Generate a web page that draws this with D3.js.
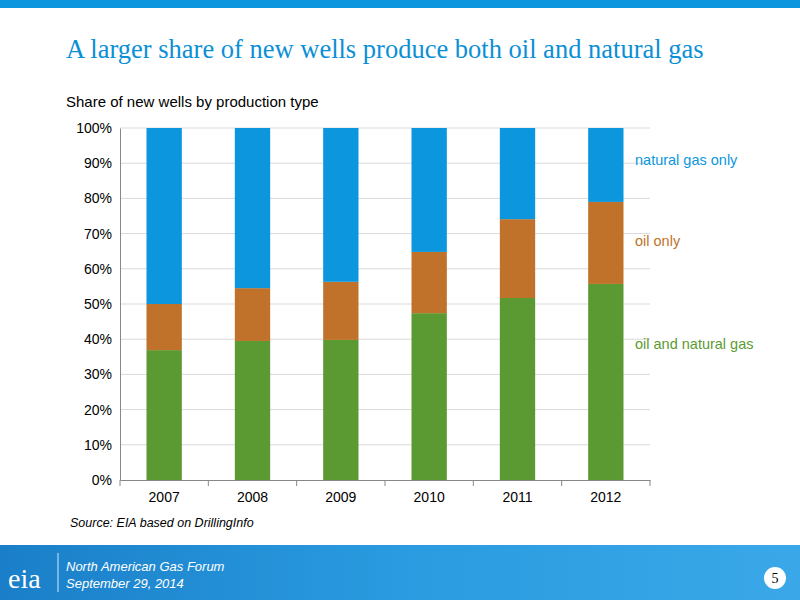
<!DOCTYPE html><html><head><meta charset="utf-8">
<script src="https://cdn.jsdelivr.net/npm/d3@7"></script>
<style>body{margin:0;background:#fff}svg{display:block}</style></head><body>
<svg id="c" width="800" height="600"></svg>
<script>
const years=["2007","2008","2009","2010","2011","2012"];
const oilAndGas=[36.9,39.5,39.8,47.4,51.7,55.7];
const oilOnly=[13.1,15.0,16.5,17.4,22.4,23.3];
const gasOnly=[50.0,45.5,43.7,35.2,25.9,21.0];
const yTicks=[0,10,20,30,40,50,60,70,80,90,100];
const seriesNames=["oil and natural gas","oil only","natural gas only"];
const colors=["#5b9a32","#c0722a","#0b96dd"];

const svg=d3.select("#c");
svg.append("rect").attr("x",0).attr("y",0).attr("width",800).attr("height",8).attr("fill","#0b96dd");
const g0=svg.append("defs").append("linearGradient").attr("id","fg").attr("x1",0).attr("x2",1);
g0.append("stop").attr("offset",0).attr("stop-color","#1a7fc8");
g0.append("stop").attr("offset",0.5).attr("stop-color","#2a9be0");
g0.append("stop").attr("offset",1).attr("stop-color","#3aa8e8");
svg.append("rect").attr("x",0).attr("y",545).attr("width",800).attr("height",55).attr("fill","url(#fg)");
svg.append("text").attr("x",8).attr("y",588).attr("fill","#fff").attr("font-family","Liberation Serif").attr("font-size",28).text("eia");
svg.append("line").attr("x1",58).attr("x2",58).attr("y1",553).attr("y2",592).attr("stroke","#cfe9f8");
svg.append("text").attr("x",66).attr("y",571).attr("fill","#fff").attr("font-family","Liberation Sans").attr("font-style","italic").attr("font-size",13).text("North American Gas Forum");
svg.append("text").attr("x",66).attr("y",588).attr("fill","#fff").attr("font-family","Liberation Sans").attr("font-style","italic").attr("font-size",13).text("September 29, 2014");
svg.append("circle").attr("cx",775).attr("cy",578).attr("r",11).attr("fill","#fff");
svg.append("text").attr("x",775).attr("y",583).attr("text-anchor","middle").attr("font-family","Liberation Serif").attr("font-size",14).text("5");

svg.append("text").attr("x",66).attr("y",58).attr("fill","#0b8fd6").attr("font-family","Liberation Serif").attr("font-size",26.5).text("A larger share of new wells produce both oil and natural gas");
svg.append("text").attr("x",66).attr("y",107).attr("fill","#000").attr("font-family","Liberation Sans").attr("font-size",15).text("Share of new wells by production type");
svg.append("text").attr("x",70).attr("y",527).attr("fill","#000").attr("font-family","Liberation Sans").attr("font-style","italic").attr("font-size",12.5).text("Source: EIA based on DrillingInfo");

const x=d3.scaleBand().domain(years).range([120,650]).paddingInner(0.6).paddingOuter(0.3);
const y=d3.scaleLinear().domain([0,100]).range([480,128]);

const grid=svg.append("g");
grid.selectAll("line").data(yTicks.slice(1)).join("line")
 .attr("x1",120).attr("x2",650).attr("y1",d=>y(d)).attr("y2",d=>y(d)).attr("stroke","#d9d9d9");

const rows=years.map((yr,i)=>({year:yr,a:oilAndGas[i],b:oilOnly[i],c:gasOnly[i]}));
const stack=d3.stack().keys(["a","b","c"])(rows);
stack.forEach((s,k)=>{
 svg.append("g").selectAll("rect").data(s).join("rect")
  .attr("x",d=>x(d.data.year)).attr("width",x.bandwidth())
  .attr("y",d=>y(Math.min(100,d[1]))).attr("height",d=>y(d[0])-y(Math.min(100,d[1])))
  .attr("fill",colors[k]);
});

const ya=svg.append("g").attr("transform","translate(120,0)")
 .call(d3.axisLeft(y).tickValues(yTicks).tickFormat(d=>d+"%").tickSize(0).tickPadding(8));
ya.select(".domain").attr("stroke","#888");
ya.selectAll("text").attr("font-family","Liberation Sans").attr("font-size",14).attr("fill","#000");

const xa=svg.append("g").attr("transform","translate(0,480)")
 .call(d3.axisBottom(x).tickSize(0).tickPadding(12));
xa.select(".domain").attr("stroke","#888");
xa.selectAll("text").attr("font-family","Liberation Sans").attr("font-size",14).attr("fill","#000");
xa.selectAll(".sep").data(d3.range(years.length+1)).join("line").attr("class","sep")
 .attr("x1",i=>120+i*(530/6)).attr("x2",i=>120+i*(530/6)).attr("y1",0).attr("y2",6).attr("stroke","#888");

const labelY=[38.5,68,91];
seriesNames.forEach((n,k)=>{
 svg.append("text").attr("x",635).attr("y",y(labelY[k])+5).attr("fill",colors[k])
  .attr("font-family","Liberation Sans").attr("font-size",14.5).text(n);
});
</script></body></html>
